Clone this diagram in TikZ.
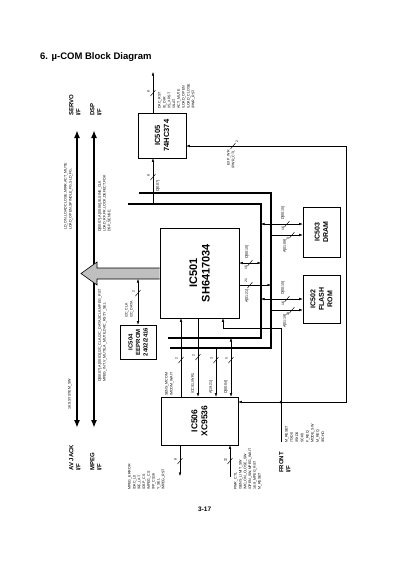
\documentclass[tikz,border=0pt]{standalone}
\usepackage{fontspec}
\setmainfont{Liberation Sans}
\usetikzlibrary{arrows.meta}

\newcommand{\bmark}[6]{% name, x, y, dx, dy, count
  \draw[sig] (#2-2.5,#3+3) -- (#2+2.5,#3-3);
  \node[num] (#1) at (#2+#4,#3+#5) {#6};}

\begin{document}
\begin{tikzpicture}[x=1pt,y=-1pt]
	\tikzset{
		box/.style = {draw, line width=0.6pt, inner sep=0pt},
		chip/.style = {rotate=90, align=center, inner sep=0pt},
		sig/.style = {line width=0.45pt},
		bus/.style = {line width=1.3pt},
		mainline/.style = {line width=1.6pt, {Latex[length=8pt,width=6pt]}-{Latex[length=8pt,width=6pt]}},
		tip/.style = {-{Latex[length=3.5pt,width=2.6pt]}},
		both/.style = {{Latex[length=3.5pt,width=2.6pt]}-{Latex[length=3.5pt,width=2.6pt]}},
		txt/.style = {rotate=90, anchor=north west, align=left, inner sep=0pt, font=\fontsize{3.6}{4.8}\selectfont},
		txtr/.style = {txt, anchor=north east, align=right},
		num/.style = {rotate=90, inner sep=0pt, font=\fontsize{3.4}{4}\selectfont},
		ifname/.style = {rotate=90, anchor=north west, align=left, inner sep=0pt, font=\bfseries\fontsize{6}{7}\selectfont}
	}
	\useasboundingbox (0,0) rectangle (400,566);

	\node[anchor=base west, inner sep=0pt, font=\bfseries\fontsize{9.5}{11}\selectfont] (title) at (40,59) {6. µ-COM Block Diagram};

	% chips
	\node[box, minimum width=48pt, minimum height=45pt] (ic505) at (162,135.5) {};
	\node[box, minimum width=79pt, minimum height=90pt] (ic501) at (199.5,273) {};
	\node[box, minimum width=37pt, minimum height=50pt] (ic503) at (321.5,232) {};
	\node[box, minimum width=37pt, minimum height=48pt] (ic502) at (321.5,299) {};
	\node[box, minimum width=36pt, minimum height=34pt] (ic504) at (138,342) {};
	\node[box, minimum width=77pt, minimum height=48pt] (ic506) at (199.5,421) {};

	\node[chip, font=\bfseries\fontsize{7.5}{9}\selectfont] (ic505t) at (ic505) {IC505\\74HC374};
	\node[chip, font=\bfseries\fontsize{11}{12.5}\selectfont] (ic501t) at (ic501) {IC501\\SH6417034};
	\node[chip, font=\bfseries\fontsize{7}{8.5}\selectfont] (ic503t) at (ic503) {IC503\\DRAM};
	\node[chip, font=\bfseries\fontsize{7}{8.5}\selectfont] (ic502t) at (ic502) {IC502\\FLASH\\ROM};
	\node[chip, font=\bfseries\fontsize{6}{7.5}\selectfont] (ic504t) at (ic504) {IC504\\EEPROM\\2402/2416};
	\node[chip, font=\bfseries\fontsize{8.5}{10}\selectfont] (ic506t) at (ic506) {IC506\\XC9536};

	% interface lines
	\coordinate (servo) at (77,130);
	\coordinate (avjack) at (77,428);
	\coordinate (dsp) at (94,130);
	\coordinate (mpeg) at (94,428);
	\draw[mainline] (avjack) -- (servo);
	\draw[mainline] (mpeg) -- (dsp);

	\node[ifname] (servot) at (69,116) {SERVO\\I/F};
	\node[ifname] (dspt) at (90,116) {DSP\\I/F};
	\node[ifname] (avjackt) at (69,471) {AV JACK\\I/F};
	\node[ifname] (mpegt) at (90,471) {MPEG\\I/F};
	\node[ifname] (frontt) at (279,473) {FRONT\\I/F};

	\node[txt] (servosig) at (64,230) {LD\_ON,LOAD CLOSE,MIRR,ACT\_MUTE\\LOAD\_OPEN,SPINDLE\_FG,SLD\_FG,};
	\node[txt] (avsig) at (68,410) {16:9,SYSTEM\_SW};
	\node[txt] (dspsig) at (98,232) {D[00:07],A[00:06],/E,SINE\_CLK\\LOAD\_RF,FR,LOCK,DEFECT,FOK\\DSP\_SENSE,};
	\node[txt] (mpegsig) at (98,382) {D[00:07],A[00:03],I2C\_CLK,I2C\_DATA,SCLK,MPEG\_RST\\MPEG\_INT,V\_MUTE,A\_MUTE,DAC\_RST,Y\_SEL};

	% data and address bus
	\coordinate (d0) at (128,204);
	\coordinate (d1) at (261,204);
	\coordinate (d2) at (261,338);
	\coordinate (d3) at (168,338);
	\coordinate (a0) at (139,193);
	\coordinate (a1) at (271,193);
	\coordinate (a2) at (271,348);
	\coordinate (a3) at (170,348);
	\draw[bus] (d0) -- (d1) -- (d2) -- (d3);
	\draw[bus] (a0) -- (a1) -- (a2) -- (a3);

	% wide arrow to the interfaces
	\draw[fill=gray!50, line width=0.6pt] (ic501.west |- 0,268) -- (97,268) -- (97,262) -- (81,273.5)
		-- (97,285) -- (97,279) -- (ic501.west |- 0,279);

	% IC504
	\coordinate (i2c) at (138,279);
	\draw[sig,both] (i2c) -- (ic504.north -| i2c);
	\bmark{n1}{138}{293}{-4.5}{-1}{2}
	\node[txt] (i2ct) at (125,318) {I2C\_CLK\\I2C\_DATA};

	% IC505
	\coordinate (latch) at (153,72);
	\draw[sig,tip] (ic505.north -| latch) -- (latch);
	\bmark{n2}{153}{93}{-4.5}{-1}{8}
	\node[txt] (latcht) at (158,109) {DAC\_RST\\/E\_DIR\\/IS\_XRST\\/XLAT\\ACT\_MUTE\\/LOAD\_OPEN\\/LOAD\_CLOSE\\/PWR\_RST};
	\draw[sig,tip] (d1 -| latch) -- (ic505.south -| latch);
	\bmark{n3}{153}{177}{-4.5}{-1}{8}
	\node[txt] (latchd) at (156,192) {D[0:07]};

	% IC501 to memories
	\draw[sig,both] (ic501.east |- 0,263) -- (d1 |- 0,263);
	\bmark{n4}{250}{263}{-4}{4.5}{16}
	\node[txt] (dbt) at (245,259) {D[00:15]};
	\draw[sig,tip] (ic501.east |- 0,285) -- (a1 |- 0,285);
	\bmark{n5}{250}{285}{-4}{-4.5}{21}
	\node[txtr] (abt) at (245,289) {A[01:21]};

	\draw[sig,both] (d1 |- 0,224) -- (ic503.west |- 0,224);
	\bmark{n6}{287}{224}{-4}{4.5}{16}
	\node[txt] (ic503d) at (281,220) {D[00:15]};
	\draw[sig,tip] (a1 |- 0,235) -- (ic503.west |- 0,235);
	\bmark{n7}{292}{235}{-4}{4}{9}
	\node[txtr] (ic503a) at (283,239) {A[01:09]};

	\draw[sig,both] (d1 |- 0,299) -- (ic502.west |- 0,299);
	\bmark{n8}{287}{299}{-4}{4.5}{16}
	\node[txt] (ic502d) at (281,295) {D[00:15]};
	\draw[sig,tip] (a1 |- 0,310) -- (ic502.west |- 0,310);
	\bmark{n9}{292}{310}{-4}{4}{19}
	\node[txtr] (ic502a) at (283,314) {A[01:19]};

	% IC501 to IC506
	\draw[sig,tip] (ic506.north -| 181,0) -- (ic501.south -| 181,0);
	\bmark{n10}{181}{360}{-4.5}{-1}{2}
	\node[txt] (senst) at (165,396) {SENS\_MCOM\\/MCOM\_WAIT};
	\draw[sig,tip] (ic501.south -| 198,0) -- (ic506.north -| 198,0);
	\bmark{n11}{198}{357}{-4.5}{-1}{2}
	\node[txt] (ccst) at (191,394) {/CCS1,/WR1};
	\draw[sig,tip] (a2 -| 216,0) -- (ic506.north -| 216,0);
	\bmark{n12}{216}{360}{-4.5}{-1}{3}
	\node[txt] (a19t) at (209,394) {A[19:21]};
	\draw[sig,both] (d2 -| 231,0) -- (ic506.north -| 231,0);
	\bmark{n13}{231}{360}{-4.5}{-1}{5}
	\node[txt] (d04t) at (224,394) {D[00:04]};

	% IC506 outputs and inputs
	\coordinate (cso) at (180,476);
	\draw[sig,tip] (ic506.south -| cso) -- (cso);
	\bmark{n14}{180}{461}{-4.5}{-1}{8}
	\node[txt] (csot) at (128,490) {MPEG\_ERROR\\/DAC\_L0\\/RF\_LAT\\/DSP\_CS\\/MPEG\_CS\\/FP\_CS16\\Y\_SEL\\/MPEG\_RST};
	\coordinate (swi) at (230,477);
	\draw[sig,tip] (swi) -- (ic506.south -| swi);
	\bmark{n15}{230}{461}{-4.5}{-1}{12}
	\node[txt] (swit) at (234,490) {PWR\_CTL\\/SENS\_LIMIT\_SW\\/MC\_ON\_CLOSE\_SW\\/OPEN\_SW,MPEG\_WAIT\\16:9\_MPEG\_RST\\M\_RESET};

	% front, reset and expander write
	\coordinate (jn) at (281,402);
	\coordinate (front) at (281,442);
	\coordinate (exb) at (346,402);
	\coordinate (exp) at (346,146);
	\coordinate (rs1) at (281,328);
	\coordinate (rs2) at (223,328);
	\draw[sig,tip] (jn) -- (ic506.east |- jn);
	\draw[sig,tip] (jn) -- (exb) -- (exp) -- (ic505.east |- exp);
	\draw[sig,tip] (jn) -- (rs1) -- (rs2) -- (ic501.south -| rs2);
	\draw[sig] (jn) -- (front);
	\fill (jn) circle (1.5pt);
	\bmark{n16}{233}{146}{4}{-4}{2}
	\node[txtr] (expt) at (227,150) {EXP\_WR\\/PWR\_CTL};
	\node[txt, font=\fontsize{3.6}{5.2}\selectfont] (frontsig) at (285,443) {M\_RESET\\/TXD0\\/RXD0\\SCK0\\F\_REQ\\MODE\_SW\\M\_REQ\\/ECHO};

	\node[anchor=base west, inner sep=0pt, font=\bfseries\fontsize{6.5}{8}\selectfont] (page) at (198,511) {3-17};
\end{tikzpicture}
\end{document}
